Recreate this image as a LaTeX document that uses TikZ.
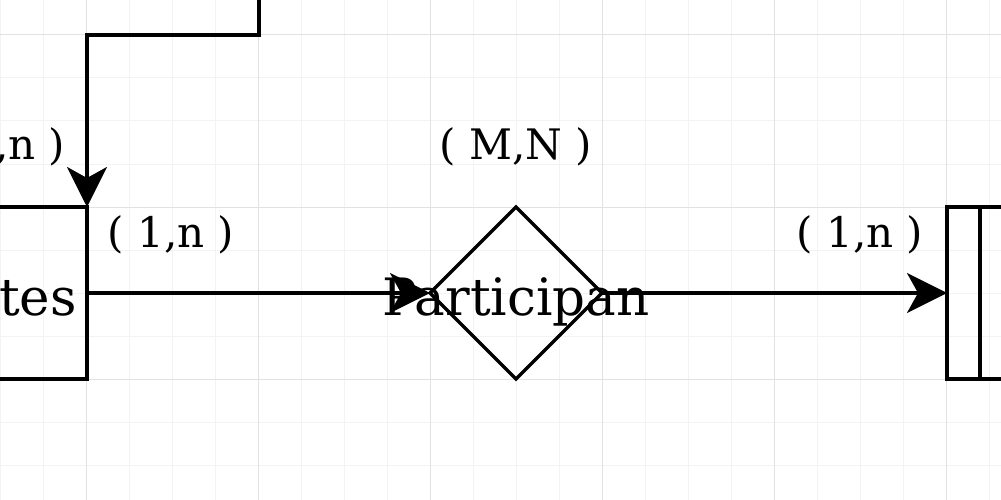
\documentclass[tikz,border=0pt]{standalone}
\usepackage{fontspec}
\setmainfont{DejaVu Serif}
\usetikzlibrary{shapes.geometric,arrows.meta}
\definecolor{gridmajor}{HTML}{E2E2E2}
\definecolor{gridminor}{HTML}{F3F3F3}
\begin{document}
\begin{tikzpicture}[x=1pt,y=-1pt,
  conn/.style={line width=3.5pt, line join=miter},
  tipA/.style={-{Stealth[length=40pt,width=40pt,inset=11pt]}},
  lbl/.style={font=\fontsize{42}{50}\selectfont, inner sep=0pt, anchor=base},
  big/.style={font=\fontsize{51.5}{60}\selectfont, inner sep=0pt, anchor=base},
  ent/.style={draw, line width=3.5pt, rectangle, minimum width=346pt, minimum height=172pt, inner sep=0pt, outer sep=0pt},
  rel/.style={draw, line width=3.5pt, diamond, aspect=1, minimum width=172pt, minimum height=172pt, inner sep=0pt, outer sep=0pt},
  gminor/.style={draw=gridminor, line width=1pt},
  gmajor/.style={draw=gridmajor, line width=1pt}]
\useasboundingbox (0,0) rectangle (1001,500);
\clip (0,0) rectangle (1001,500);
\fill[white] (0,0) rectangle (1001,500);
% grid
\foreach \x in {0.5,43.5,...,1001} \draw[gminor] (\x,0) -- (\x,500);
\foreach \y in {-8,35,...,500} \draw[gminor] (0,\y) -- (1001,\y);
\foreach \x in {86.5,258.5,...,1001} \draw[gmajor] (\x,0) -- (\x,500);
\foreach \y in {35,207,379} \draw[gmajor] (0,\y) -- (1001,\y);
% shapes
\node[ent] (e1) at (-86,293) {};
\node[big, anchor=base east] (t1) at (77,315) {Participantes};
\node[rel] (r) at (516,293) {};
\node[ent] (e2) at (1120,293) {};
\draw[line width=3.5pt] (980,207) -- (980,379);
\coordinate (src) at (259,-10);
% connectors
\draw[conn,tipA] (src) |- (87,35) -- (e1.north east);
\draw[conn,tipA] (e1.east) -- (r.west);
\draw[conn,tipA] (r.east) -- (e2.west);
\node[big] (rt) at (516,315) {Participan};
% labels
\node[lbl] (l0) at (2,160) {( 1,n )};
\node[lbl] (l1) at (171,247) {( 1,n )};
\node[lbl] (l2) at (516,160) {( M,N )};
\node[lbl] (l3) at (860,247) {( 1,n )};
\end{tikzpicture}
\end{document}
